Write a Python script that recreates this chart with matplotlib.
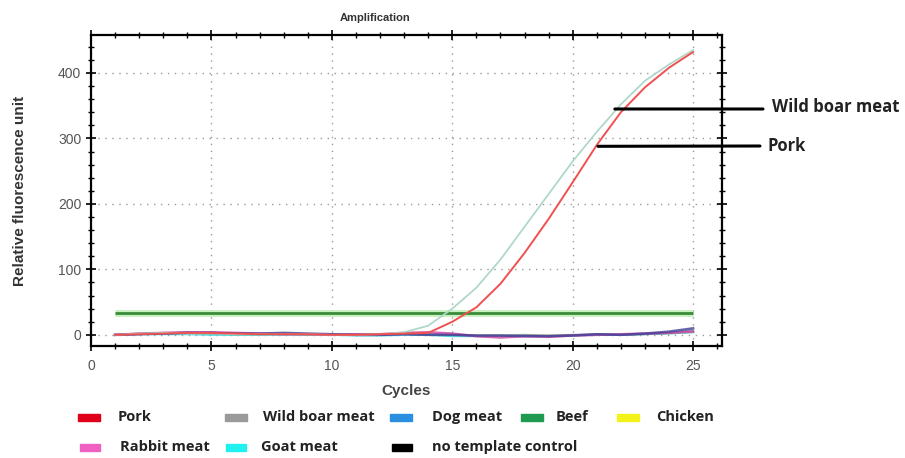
import matplotlib
matplotlib.use("Agg")
import matplotlib.pyplot as plt
from matplotlib.patches import Rectangle
import numpy as np

cycles = list(range(1, 26))

pork = [0, 1, 2, 3, 3, 2, 1, 1, 1, 0, 0, 1, 2, 3, 20, 42, 78, 125, 177, 233, 290, 340, 378, 408, 432]
wild_boar = [0, 2, 3, 2, 2, 1, 1, 1, 1, 0, 0, 1, 4, 14, 40, 72, 115, 165, 215, 265, 310, 352, 388, 413, 435]
dog_meat = [0, 1, 2, 3, 3, 2, 2, 3, 2, 1, 0, 0, 1, 0, 0, -1, -1, -2, -2, -1, 1, 0, 2, 5, 10]
beef = [33] * 25
chicken = [0, 1, 1, 1, 1, 0, 0, 1, 0, 0, 0, 0, 1, 0, -1, -1, -1, -1, -1, 0, 0, 0, 1, 2, 4]
rabbit = [0, 2, 3, 4, 4, 3, 2, 1, 1, 0, 1, 1, 3, 4, 2, -2, -4, -2, -3, -1, 0, 1, 2, 3, 5]
goat = [0, 1, 1, 1, 0, 0, 0, 0, 0, 0, -1, -1, 0, 0, -2, -2, -2, -1, -2, -1, 0, 0, 1, 2, 4]
ntc = [0, 2, 3, 3, 2, 1, 1, 2, 1, 0, 0, 0, 1, 1, 0, -1, -1, 0, -1, 0, 1, 0, 1, 3, 7]

x_ticks = [0, 5, 10, 15, 20, 25]
y_ticks = [0, 100, 200, 300, 400]

legend_row1 = [("Pork", "#e0001a"), ("Wild boar meat", "#9a9a9a"), ("Dog meat", "#2a8fe0"),
               ("Beef", "#1f9a50"), ("Chicken", "#f2f21a")]
legend_row2 = [("Rabbit meat", "#f060c0"), ("Goat meat", "#20f0f0"), ("no template control", "#000000")]

W, H = 905, 458
fig = plt.figure(figsize=(W / 100, H / 100), dpi=100)
ax = fig.add_axes([91 / W, 1 - 346 / H, (722 - 91) / W, (346 - 35) / H])

# baseline curves
ax.plot(cycles, chicken, color="#f0f040", lw=1.2, alpha=0.6)
ax.plot(cycles, goat, color="#30d8e8", lw=1.5, alpha=0.8)
ax.plot(cycles, ntc, color="#7a8a8a", lw=1.5, alpha=0.7)
ax.plot(cycles, rabbit, color="#d040a0", lw=1.8, alpha=0.8)
ax.plot(cycles, dog_meat, color="#40409a", lw=1.8, alpha=0.8)
# beef (green) line
ax.plot(cycles, beef, color="#c8f0c0", lw=5, solid_capstyle="butt")
ax.plot(cycles, beef, color="#3a8a3a", lw=2, solid_capstyle="butt")
# positive samples
ax.plot(cycles, wild_boar, color="#b0d8c8", lw=1.3)
ax.plot(cycles, pork, color="#f05050", lw=1.4)

ax.set_xlim(0, 26.2)
ax.set_ylim(-17, 458)
ax.set_xticks(x_ticks)
ax.set_yticks(y_ticks)
ax.set_xticks(np.arange(0, 27, 1), minor=True)
ax.set_yticks(np.arange(0, 460, 20), minor=True)
ax.grid(True, which="major", linestyle=(0, (1, 4)), color="#999999", lw=1)
ax.tick_params(which="both", direction="inout", top=True, right=True, color="black",
               labelcolor="#555555", labelsize=10)
ax.tick_params(which="major", length=7, width=1.2)
ax.tick_params(which="minor", length=5, width=1)
ax.tick_params(axis="x", pad=6)
for lab in ax.get_xticklabels() + ax.get_yticklabels():
    lab.set_fontfamily("Liberation Sans")
for s in ax.spines.values():
    s.set_linewidth(1.6)

ax.set_xlabel("Cycles", fontsize=11, fontweight="bold", color="#444444", labelpad=8,
              family="Liberation Sans")
ax.set_ylabel("Relative fluorescence unit", fontsize=11, fontweight="bold", color="#333333",
              labelpad=22, family="Liberation Sans")
fig.text(375 / W, 1 - 18 / H, "Amplification", ha="center", va="center", fontsize=8,
         fontweight="bold", color="#333333", family="Liberation Sans")

# annotations
def label_line(x_data, y_data, end_px, text_px, text):
    ax.annotate("", xy=(x_data, y_data), xycoords="data",
                xytext=(end_px[0] / W, 1 - end_px[1] / H), textcoords="figure fraction",
                arrowprops=dict(arrowstyle="-", lw=2.2, color="black", shrinkA=0, shrinkB=0),
                annotation_clip=False)
    fig.text(text_px[0] / W, 1 - text_px[1] / H, text, ha="left", va="center",
             fontsize=12, fontweight="bold", color="#222222", family="Open Sans")

label_line(21.75, 345, (763, 109), (772, 107), "Wild boar meat")
label_line(21.05, 288, (760, 146), (767, 146), "Pork")

# legend
row1_patch_x = [78, 225, 390, 521, 617]
row1_text_x = [118, 263, 432, 556, 656]
row2_patch_x = [80, 226, 392]
row2_text_x = [120, 261, 432]
for (name, col), px, tx in zip(legend_row1, row1_patch_x, row1_text_x):
    fig.patches.append(Rectangle((px / W, 1 - 421 / H), 22 / W, 7 / H, transform=fig.transFigure,
                                 color=col, figure=fig))
    fig.text(tx / W, 1 - 417 / H, name, ha="left", va="center", fontsize=10.5,
             fontweight="bold", color="#222222", family="Open Sans")
for (name, col), px, tx in zip(legend_row2, row2_patch_x, row2_text_x):
    fig.patches.append(Rectangle((px / W, 1 - 451 / H), 20 / W, 7 / H, transform=fig.transFigure,
                                 color=col, figure=fig))
    fig.text(tx / W, 1 - 447 / H, name, ha="left", va="center", fontsize=10.5,
             fontweight="bold", color="#222222", family="Open Sans")

fig.savefig("out.png", dpi=100)
